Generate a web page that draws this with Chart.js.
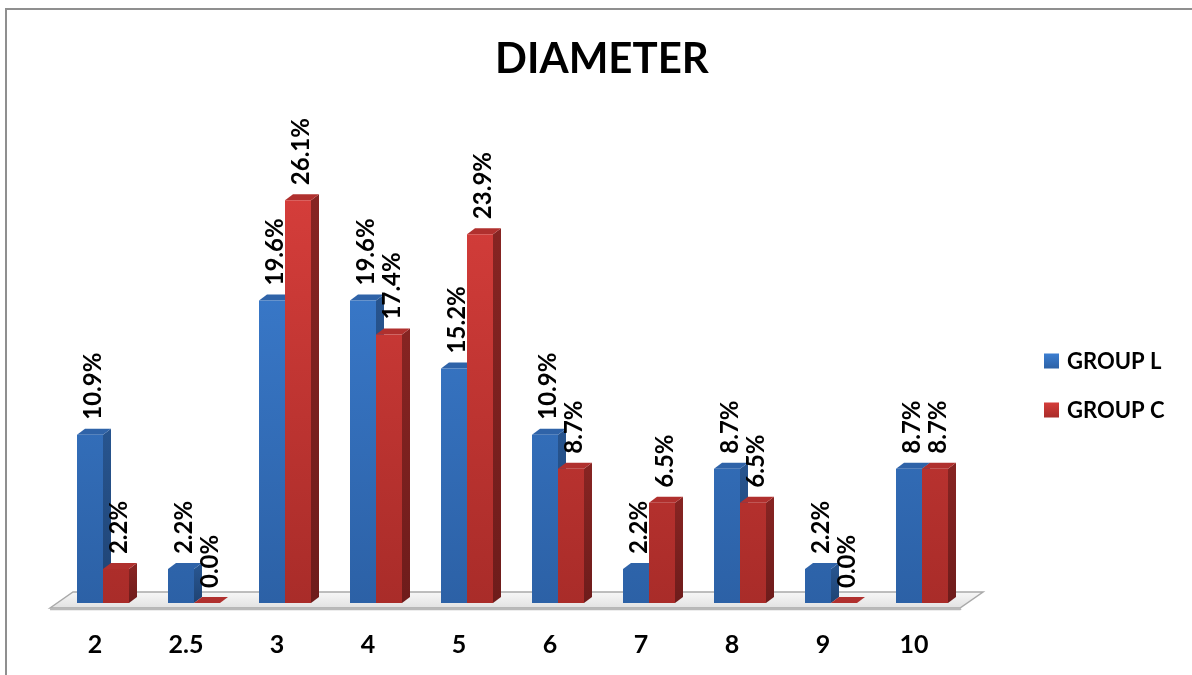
<!DOCTYPE html>
<html>
<head>
<meta charset="utf-8">
<title>DIAMETER</title>
<script src="https://cdn.jsdelivr.net/npm/chart.js@4.4.1/dist/chart.umd.min.js"></script>
<style>
  html, body { margin: 0; padding: 0; background: #ffffff; }
  #wrap { position: relative; width: 1192px; height: 675px; }
  canvas { display: block; }
</style>
</head>
<body>
<div id="wrap"><canvas id="chart" width="1192" height="675"></canvas></div>
<script>
// Diameter groups and the share of each group (percent)
const categories = ['2', '2.5', '3', '4', '5', '6', '7', '8', '9', '10'];
const groupL = [10.9, 2.2, 19.6, 19.6, 15.2, 10.9, 2.2, 8.7, 2.2, 8.7];
const groupC = [2.2, 0.0, 26.1, 17.4, 23.9, 8.7, 6.5, 6.5, 0.0, 8.7];
const seriesNames = ['GROUP L', 'GROUP C'];
const chartTitle = 'DIAMETER';

const FONT = 'Lato, "Open Sans", "DejaVu Sans", sans-serif';

// Colours for each face of the extruded bars
const palette = [
  { frontTop: '#3c7ed1', frontBottom: '#2c61a6', side: '#27548e', sideDark: '#1f4373', top: '#2f63a8' },
  { frontTop: '#d43d3a', frontBottom: '#a92c29', side: '#862422', sideDark: '#6e1c1b', top: '#b0302e' }
];
const DEPTH_X = 8;
const DEPTH_Y = 6;

function frontGradient(ctx, chartArea, p) {
  const g = ctx.createLinearGradient(0, chartArea.top + 60, 0, chartArea.bottom);
  g.addColorStop(0, p.frontTop);
  g.addColorStop(1, p.frontBottom);
  return g;
}

// Floor slab plus side and top faces of each bar, painted under the bar fronts
const depthPlugin = {
  id: 'depthFaces',
  beforeDatasetsDraw(chart) {
    const ctx = chart.ctx;
    const area = chart.chartArea;
    const base = chart.scales.y.getPixelForValue(0);

    // floor
    const fy = base + 5, by = base - 11;
    const fl = area.left - 7.5, fr = area.right - 7.5, skew = 23;
    ctx.save();
    const fg = ctx.createLinearGradient(0, by, 0, fy);
    fg.addColorStop(0, '#f7f7f7');
    fg.addColorStop(1, '#e2e2e2');
    ctx.beginPath();
    ctx.moveTo(fl, fy);
    ctx.lineTo(fl + skew, by);
    ctx.lineTo(fr + skew, by);
    ctx.lineTo(fr, fy);
    ctx.closePath();
    ctx.fillStyle = fg;
    ctx.fill();
    ctx.lineWidth = 1.5;
    ctx.strokeStyle = '#a9a9a9';
    ctx.stroke();
    ctx.beginPath();
    ctx.moveTo(fl, fy + 1);
    ctx.lineTo(fr, fy + 1);
    ctx.lineTo(fr + 1, fy + 0.5);
    ctx.lineWidth = 2.5;
    ctx.strokeStyle = '#b9b9b9';
    ctx.stroke();
    ctx.restore();

    chart.data.datasets.forEach((ds, di) => {
      const meta = chart.getDatasetMeta(di);
      const p = palette[di];
      meta.data.forEach(bar => {
        const left = bar.x - bar.width / 2;
        const right = bar.x + bar.width / 2;
        const top = bar.y;
        const b = bar.base;
        ctx.save();
        // right side
        const sg = ctx.createLinearGradient(0, top, 0, b);
        sg.addColorStop(0, p.side);
        sg.addColorStop(1, p.sideDark);
        ctx.beginPath();
        ctx.moveTo(right, top);
        ctx.lineTo(right + DEPTH_X, top - DEPTH_Y);
        ctx.lineTo(right + DEPTH_X, b - DEPTH_Y);
        ctx.lineTo(right, b);
        ctx.closePath();
        ctx.fillStyle = sg;
        ctx.fill();
        // top
        ctx.beginPath();
        ctx.moveTo(left, top);
        ctx.lineTo(left + DEPTH_X, top - DEPTH_Y);
        ctx.lineTo(right + DEPTH_X, top - DEPTH_Y);
        ctx.lineTo(right, top);
        ctx.closePath();
        ctx.fillStyle = p.top;
        ctx.fill();
        ctx.restore();
      });
    });
  },
  afterDatasetsDraw(chart) {
    // value labels, written upward above each bar
    const ctx = chart.ctx;
    ctx.save();
    ctx.fillStyle = '#000000';
    ctx.font = 'bold 24px ' + FONT;
    ctx.textAlign = 'left';
    ctx.textBaseline = 'middle';
    chart.data.datasets.forEach((ds, di) => {
      const meta = chart.getDatasetMeta(di);
      meta.data.forEach((bar, i) => {
        const text = ds.data[i].toFixed(1) + '%';
        ctx.save();
        ctx.translate(bar.x + 3, bar.y - 15);
        ctx.rotate(-Math.PI / 2);
        ctx.fillText(text, 0, 0);
        ctx.restore();
      });
    });
    ctx.restore();
  },
  afterDraw(chart) {
    const ctx = chart.ctx;
    ctx.save();
    // frame
    ctx.strokeStyle = '#8f8f8f';
    ctx.lineWidth = 2;
    ctx.beginPath();
    ctx.moveTo(6, 675);
    ctx.lineTo(6, 9);
    ctx.lineTo(1192, 9);
    ctx.stroke();

    // title
    ctx.fillStyle = '#000000';
    ctx.font = 'bold 42px ' + FONT;
    ctx.textAlign = 'center';
    ctx.textBaseline = 'middle';
    ctx.fillText(chartTitle, 602, 59);

    // legend
    ctx.font = 'bold 22px ' + FONT;
    ctx.textAlign = 'left';
    const rows = [361, 410];
    seriesNames.forEach((name, i) => {
      const p = palette[i];
      const cy = rows[i];
      const g = ctx.createLinearGradient(0, cy - 7.5, 0, cy + 7.5);
      g.addColorStop(0, p.frontTop);
      g.addColorStop(1, p.frontBottom);
      ctx.fillStyle = g;
      ctx.fillRect(1044, cy - 7.5, 15, 15);
      ctx.fillStyle = '#000000';
      ctx.fillText(name, 1067, cy + 1);
    });
    ctx.restore();
  }
};

function build() {
  new Chart(document.getElementById('chart'), {
    type: 'bar',
    data: {
      labels: categories,
      datasets: [
        {
          label: seriesNames[0],
          data: groupL,
          backgroundColor: c => c.chart.chartArea ? frontGradient(c.chart.ctx, c.chart.chartArea, palette[0]) : palette[0].frontTop,
          borderWidth: 0
        },
        {
          label: seriesNames[1],
          data: groupC,
          backgroundColor: c => c.chart.chartArea ? frontGradient(c.chart.ctx, c.chart.chartArea, palette[1]) : palette[1].frontTop,
          borderWidth: 0
        }
      ]
    },
    options: {
      responsive: false,
      animation: false,
      layout: { padding: { top: 140, left: 57.5, right: 224.5, bottom: 0 } },
      datasets: { bar: { categoryPercentage: 52 / 91, barPercentage: 1 } },
      plugins: {
        legend: { display: false },
        title: { display: false },
        tooltip: { enabled: false }
      },
      scales: {
        x: {
          grid: { display: false, drawTicks: false },
          border: { display: false },
          ticks: {
            color: '#000000',
            font: { family: FONT, size: 25, weight: 'bold' },
            padding: 27,
            labelOffset: -8
          },
          afterFit(scale) { scale.height = 72; }
        },
        y: {
          display: false,
          min: 0,
          max: 30
        }
      }
    },
    plugins: [depthPlugin]
  });
}

if (document.fonts && document.fonts.load) {
  Promise.all([
    document.fonts.load('bold 24px Lato'),
    document.fonts.load('bold 42px Lato')
  ]).then(build, build);
} else {
  build();
}
</script>
</body>
</html>
